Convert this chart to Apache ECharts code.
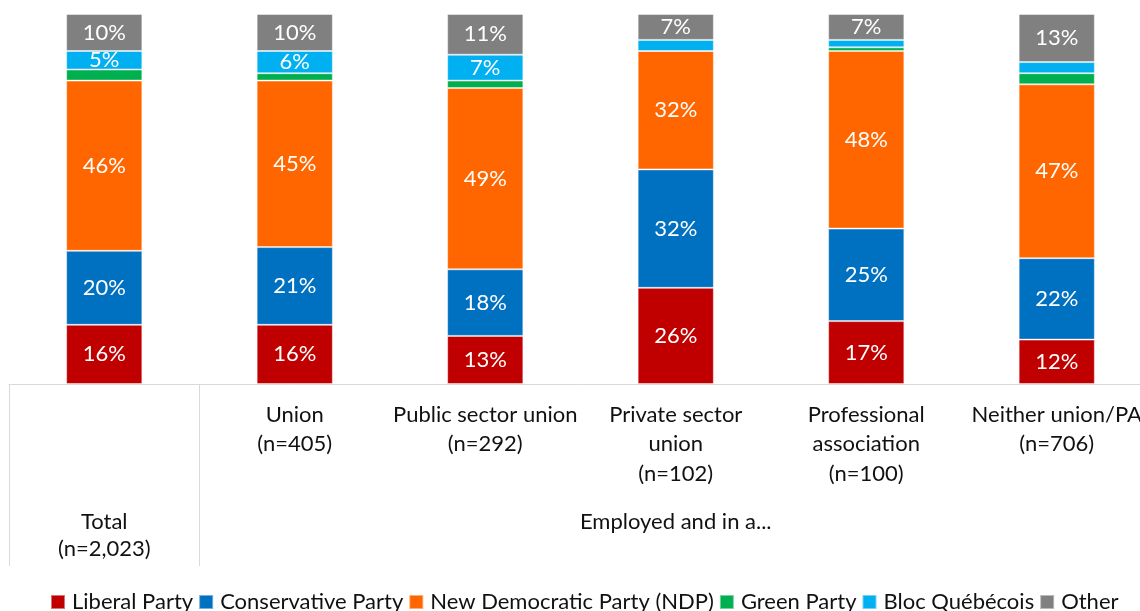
<!DOCTYPE html>
<html>
<head>
<meta charset="utf-8">
<title>Vote intention by union membership</title>
<script src="https://cdn.jsdelivr.net/npm/echarts@6/dist/echarts.min.js"></script>
<style>
  html, body { margin: 0; padding: 0; background: #fff; overflow: hidden; }
  /* the plot runs slightly past the right edge of the window */
  #chart { width: 1161px; height: 611px; }
</style>
</head>
<body>
<div id="chart"></div>
<script>
// Sub-group labels (first level) and the group labels beneath them (second level)
const categories = ['', 'Union\n(n=405)', 'Public sector union\n(n=292)', 'Private sector\nunion\n(n=102)', 'Professional\nassociation\n(n=100)', 'Neither union/PA\n(n=706)'];
const groupLabels = ['Total\n(n=2,023)', '', '', 'Employed and in a...', '', ''];

// Vote share (%) per party, one value per category
const liberal      = [16, 16, 13, 26, 17, 12];
const conservative = [20, 21, 18, 32, 25, 22];
const ndp          = [46, 45, 49, 32, 48, 47];
const green        = [3, 2, 2, 0, 1, 3];
const bloc         = [5, 6, 7, 3, 2, 3];
const other        = [10, 10, 11, 7, 7, 13];

const parties = [
  { name: 'Liberal Party', data: liberal, color: '#C00000' },
  { name: 'Conservative Party', data: conservative, color: '#0070C0' },
  { name: 'New Democratic Party (NDP)', data: ndp, color: '#FF6600' },
  { name: 'Green Party', data: green, color: '#00B050' },
  { name: 'Bloc Québécois', data: bloc, color: '#00B0F0' },
  { name: 'Other', data: other, color: '#808080' }
];

const FONT = 'Lato, "Open Sans", sans-serif';
const TEXT = '#111111';
const chart = echarts.init(document.getElementById('chart'), null, { renderer: 'canvas' });

chart.setOption({
  backgroundColor: '#ffffff',
  animation: false,
  textStyle: { fontFamily: FONT },
  grid: { left: 9, right: 9, top: 14, height: 370, containLabel: false },
  legend: {
    data: parties.map(p => p.name),
    left: 45,
    top: 586,
    icon: 'rect',
    itemWidth: 14,
    itemHeight: 14,
    itemGap: 5,
    textStyle: { fontFamily: FONT, fontSize: 22, color: TEXT, padding: [0, 0, 0, 2] }
  },
  xAxis: [
    {
      type: 'category',
      data: categories,
      position: 'bottom',
      axisLine: { lineStyle: { color: '#d9d9d9', width: 1 } },
      axisTick: {
        show: true,
        length: 182,
        lineStyle: { color: '#d9d9d9', width: 1 },
        interval: (i) => i === 0 || i === 1
      },
      axisLabel: {
        interval: 0,
        margin: 16,
        fontFamily: FONT,
        fontSize: 22,
        lineHeight: 29.5,
        color: TEXT,
        verticalAlign: 'top'
      }
    },
    {
      type: 'category',
      data: groupLabels,
      position: 'bottom',
      offset: 0,
      axisLine: { show: false },
      axisTick: { show: false },
      axisLabel: {
        interval: 0,
        margin: 124,
        fontFamily: FONT,
        fontSize: 22,
        lineHeight: 27,
        color: TEXT,
        verticalAlign: 'top'
      }
    }
  ],
  yAxis: {
    type: 'value',
    min: 0,
    max: 100,
    show: false
  },
  series: parties.map(p => ({
    name: p.name,
    type: 'bar',
    stack: 'share',
    xAxisIndex: 0,
    barWidth: '40%',
    data: p.data,
    itemStyle: {
      color: p.color,
      borderColor: 'rgba(255,255,255,0.45)',
      borderWidth: 1
    },
    label: {
      show: true,
      position: 'inside',
      color: '#ffffff',
      fontFamily: FONT,
      fontSize: 22,
      formatter: (d) => (d.value >= 5 ? d.value + '%' : '')
    }
  }))
});
</script>
</body>
</html>
